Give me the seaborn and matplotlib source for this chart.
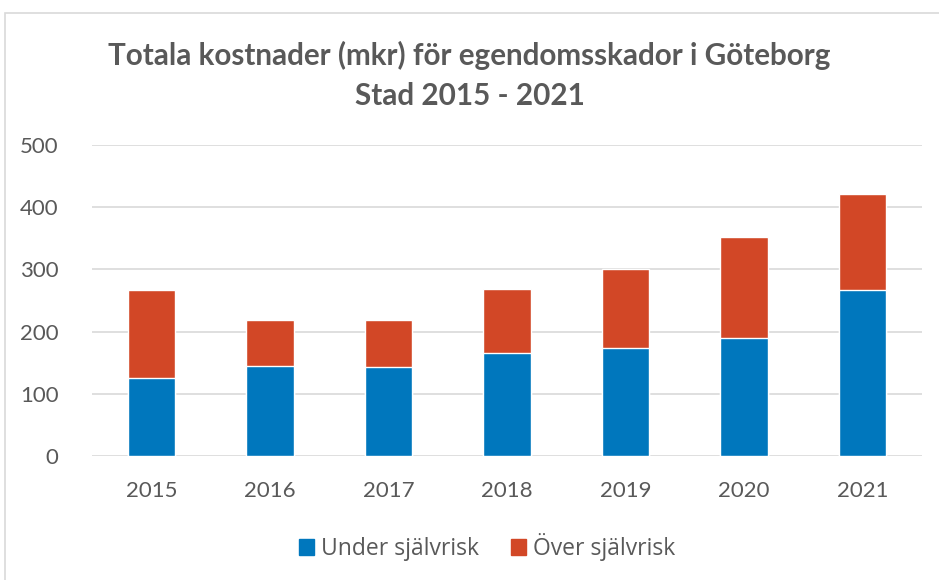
import matplotlib
matplotlib.use("Agg")
import matplotlib.pyplot as plt
from matplotlib.patches import Patch, Rectangle
import seaborn as sns
import pandas as pd

years = ["2015", "2016", "2017", "2018", "2019", "2020", "2021"]
under = [125, 145, 143, 166, 174, 189, 267]
over = [142, 73, 75, 103, 126, 163, 154]
yticks = [0, 100, 200, 300, 400, 500]

blue = "#0077BD"
orange = "#D24726"
grey_text = "#595959"

sns.set_theme(style="white")
plt.rcParams["font.family"] = ["Lato", "DejaVu Sans"]

df = pd.DataFrame({"year": years, "under": under, "over": over})
df["total"] = df["under"] + df["over"]

fig = plt.figure(figsize=(9.39, 5.80), dpi=100)
ax = fig.add_axes([92 / 939, 1 - 456 / 580, 830 / 939, 311 / 580])

# stacked look: totals in orange, then the lower part in blue on top
sns.barplot(data=df, x="year", y="total", color=orange, width=0.4,
            saturation=1, ax=ax, zorder=3)
sns.barplot(data=df, x="year", y="under", color=blue, width=0.4,
            saturation=1, ax=ax, zorder=3)

ax.set_ylim(0, 500)
ax.set_xlim(-0.5, 6.5)
ax.set_yticks(yticks)
ax.set_xlabel("")
ax.set_ylabel("")
for s in ax.spines.values():
    s.set_visible(False)
ax.grid(axis="y", color="#D9D9D9", linewidth=1.2, zorder=0)
ax.set_axisbelow(True)
ax.tick_params(axis="y", length=0, pad=24, labelsize=16, labelcolor=grey_text)
ax.tick_params(axis="x", length=0, pad=18, labelsize=16, labelcolor=grey_text)

fig.text(0.5, 1 - 55 / 580, "Totala kostnader (mkr) för egendomsskador i Göteborg",
         ha="center", va="center", fontsize=21.3, fontweight="bold", color=grey_text)
fig.text(0.5, 1 - 96 / 580, "Stad 2015 - 2021",
         ha="center", va="center", fontsize=21.3, fontweight="bold", color=grey_text)

handles = [Patch(color=blue, label="Under självrisk"),
           Patch(color=orange, label="Över självrisk")]
fig.legend(handles=handles, loc="center", bbox_to_anchor=(487 / 939, 1 - 547 / 580),
           ncol=2, frameon=False, prop={"family": "Open Sans", "size": 16.5},
           labelcolor=grey_text, handlelength=0.65, handleheight=0.65,
           handletextpad=0.3, columnspacing=1.4)

# chart frame
fig.patches.append(Rectangle((5 / 939, -0.1), 1.1, 1 - 13 / 580 + 0.1,
                             transform=fig.transFigure, fill=False,
                             edgecolor="#D9D9D9", linewidth=1.2))

fig.savefig("out.png", dpi=100)
